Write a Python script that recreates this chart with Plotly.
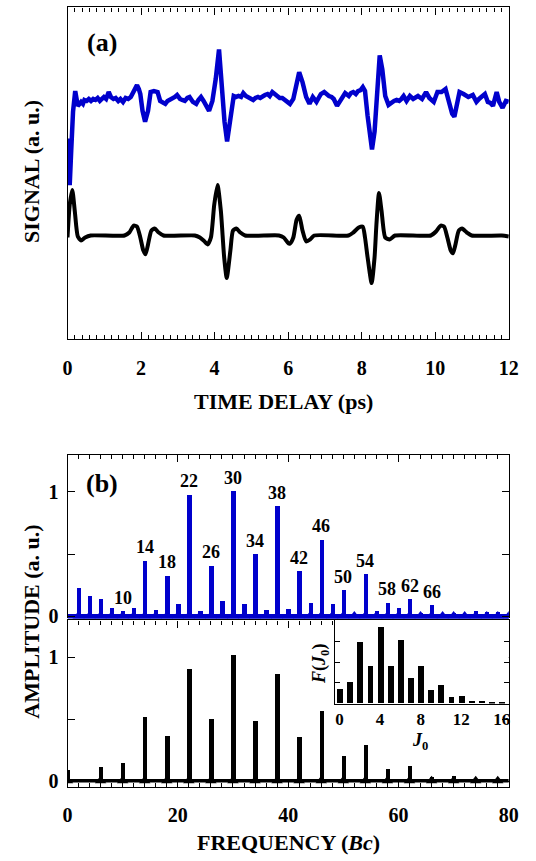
import plotly.graph_objects as go

W, H = 536, 861

# ---------------- data: panel (a) time-domain signals (a.u.) ----------------
blue_t = [0.00, 0.03, 0.06, 0.10, 0.15, 0.21, 0.28, 0.33, 0.37, 0.42, 0.46, 0.52, 0.58, 0.64, 0.70,
          0.76, 0.82, 0.88, 0.94, 0.99, 1.05, 1.12, 1.18, 1.25, 1.31, 1.38, 1.44, 1.51, 1.58, 1.65,
          1.72, 1.78, 1.84, 1.89, 1.94, 1.98, 2.04, 2.11, 2.19, 2.26, 2.35, 2.45, 2.52, 2.59, 2.66,
          2.72, 2.79, 2.86, 2.92, 2.98, 3.06, 3.12, 3.19, 3.26, 3.32, 3.41, 3.50, 3.56, 3.63, 3.70,
          3.76, 3.85, 3.94, 4.03, 4.12, 4.20, 4.27, 4.34, 4.43, 4.52, 4.58, 4.65, 4.72, 4.78, 4.85,
          4.91, 4.98, 5.05, 5.11, 5.18, 5.24, 5.31, 5.37, 5.44, 5.50, 5.57, 5.64, 5.71, 5.77, 5.84,
          5.90, 5.97, 6.05, 6.14, 6.23, 6.30, 6.39, 6.49, 6.58, 6.67, 6.77, 6.83, 6.89, 6.98, 7.05,
          7.11, 7.18, 7.24, 7.33, 7.44, 7.50, 7.55, 7.65, 7.71, 7.77, 7.84, 7.90, 7.97, 8.03, 8.09,
          8.16, 8.23, 8.28, 8.35, 8.42, 8.49, 8.56, 8.64, 8.73, 8.82, 8.88, 8.95, 9.02, 9.08, 9.14,
          9.22, 9.31, 9.40, 9.47, 9.53, 9.64, 9.75, 9.84, 9.96, 10.06, 10.17, 10.28, 10.37, 10.46,
          10.52, 10.59, 10.66, 10.77, 10.84, 10.90, 11.02, 11.12, 11.19, 11.26, 11.35, 11.43, 11.50,
          11.57, 11.67, 11.74, 11.83, 11.92, 12.00]
blue_v = [9.8, 7.0, 5.1, 8.5, 12.5, 14.6, 13.1, 13.3, 13.5, 13.3, 13.7, 13.6, 13.8, 13.6, 13.8,
          13.7, 13.9, 13.6, 13.9, 14.0, 13.8, 14.5, 14.0, 13.8, 13.9, 13.6, 13.8, 13.5, 13.9, 13.8,
          14.0, 14.5, 15.0, 15.2, 14.8, 14.3, 12.6, 11.5, 12.6, 14.5, 14.6, 14.5, 13.6, 13.5, 13.3,
          13.6, 13.7, 13.9, 14.0, 14.2, 13.8, 13.7, 13.6, 13.9, 14.0, 13.5, 13.3, 13.7, 14.0, 13.6,
          13.1, 12.6, 13.6, 15.8, 18.8, 14.8, 11.5, 9.5, 11.5, 14.1, 14.0, 14.1, 14.0, 14.4, 14.1,
          14.0, 13.8, 13.7, 13.9, 14.0, 13.9, 14.1, 14.2, 14.3, 14.1, 14.5, 14.3, 14.1, 13.9, 13.9,
          13.7, 13.6, 13.3, 13.8, 15.5, 16.5, 15.5, 14.0, 13.3, 14.0, 13.5, 14.0, 14.3, 14.5, 14.2,
          14.1, 14.0, 13.8, 13.1, 13.8, 14.0, 14.4, 14.1, 14.4, 14.5, 14.3, 14.6, 14.7, 15.0, 14.6,
          12.1, 9.8, 8.7, 10.5, 14.8, 18.2, 16.8, 14.1, 13.2, 13.5, 13.6, 13.7, 13.6, 13.8, 14.1,
          13.6, 14.1, 13.8, 14.0, 14.1, 13.8, 14.5, 13.9, 13.5, 14.5, 14.5, 14.8, 13.3, 12.3,
          12.0, 13.5, 14.5, 14.3, 14.1, 14.0, 14.2, 13.5, 13.8, 14.0, 14.3, 13.5, 13.4,
          13.1, 14.5, 13.5, 12.9, 13.6, 13.5]

black_t = [0.00, 0.06, 0.13, 0.20, 0.28, 0.37, 0.48, 0.63, 1.55, 1.68, 1.80, 1.89, 1.98, 2.06, 2.12,
           2.19, 2.28, 2.37, 2.48, 2.61, 3.46, 3.60, 3.70, 3.81, 3.90, 3.99, 4.08, 4.17, 4.26, 4.33,
           4.43, 4.50, 4.59, 4.70, 4.83, 5.75, 5.88, 6.01, 6.05, 6.14, 6.23, 6.30, 6.39, 6.49, 6.60,
           6.71, 7.64, 7.77, 7.92, 8.03, 8.09, 8.16, 8.27, 8.35, 8.40, 8.47, 8.54, 8.64, 8.76, 8.91,
           9.88, 10.02, 10.15, 10.24, 10.33, 10.42, 10.48, 10.55, 10.64, 10.73, 10.86, 10.99, 11.81, 12.00]
black_v = [-0.2, 3.1, 4.6, 2.4, -0.1, -0.5, -0.2, 0.0, 0.0, 0.3, 1.0, 0.9, -0.2, -1.5, -1.9,
           -0.9, 0.5, 0.7, 0.3, 0.0, 0.0, -0.2, -0.5, -0.9, -0.2, 3.1, 5.1, 2.5, -2.2, -4.3,
           -1.5, 0.5, 0.7, 0.3, 0.0, 0.0, -0.2, -0.8, -0.8, -0.2, 1.6, 2.0, 0.5, -0.6, -0.4,
           0.0, 0.0, 0.3, 0.8, 0.9, -0.2, -2.2, -4.8, -2.2, 1.1, 4.3, 2.5, -0.2, -0.4, 0.0,
           0.0, 0.4, 1.0, 0.9, -0.2, -1.5, -1.8, -0.9, 0.5, 0.7, 0.3, 0.0, 0.0, -0.1]

# ---------------- data: panel (b) spectra ----------------
blue_freq = [2, 4, 6, 8, 10, 12, 14, 16, 18, 20, 22, 24, 26, 28, 30, 32, 34, 36, 38, 40,
             42, 44, 46, 48, 50, 52, 54, 56, 58, 60, 62, 64, 66, 68, 70, 72, 74, 76, 78, 80]
blue_amp = [0.23, 0.165, 0.14, 0.072, 0.045, 0.07, 0.45, 0.053, 0.33, 0.10, 0.98, 0.043, 0.41, 0.13,
            1.01, 0.10, 0.50, 0.053, 0.885, 0.06, 0.367, 0.11, 0.62, 0.10, 0.215, 0.02, 0.34, 0.043,
            0.114, 0.074, 0.14, 0.03, 0.093, 0.02, 0.027, 0.01, 0.043, 0.035, 0.035, 0.027]
black_freq = [0, 6, 10, 14, 18, 22, 26, 30, 34, 38, 42, 46, 50, 54, 58, 62, 66, 70, 74, 78]
black_amp = [0.086, 0.11, 0.14, 0.51, 0.36, 0.90, 0.50, 1.01, 0.48, 0.86, 0.355, 0.56, 0.20, 0.29,
             0.094, 0.12, 0.03, 0.038, 0.01, 0.01]
peak_labels = [10, 14, 18, 22, 26, 30, 34, 38, 42, 46, 50, 54, 58, 62, 66]

# ---------------- data: inset ----------------
inset_j = list(range(17))
inset_f = [0.70, 1.0, 2.95, 1.8, 3.67, 1.78, 3.02, 1.23, 1.81, 0.64, 0.875, 0.30, 0.34, 0.125,
           0.11, 0.06, 0.04]

BLUE = "#0000cc"
FONT = "Liberation Serif"


def px(xp):
    return xp / W


def py(yp):
    return 1 - yp / H


fig = go.Figure()
fig.add_trace(go.Scatter(x=blue_t, y=blue_v, mode="lines", line=dict(color=BLUE, width=4.5),
                         xaxis="x", yaxis="y", showlegend=False))
fig.add_trace(go.Scatter(x=black_t, y=black_v, mode="lines",
                         line=dict(color="black", width=4, shape="spline", smoothing=0.6),
                         xaxis="x", yaxis="y", showlegend=False))

# blue spectrum: spikes + flared bases + thick baseline
fig.add_trace(go.Bar(x=blue_freq, y=blue_amp, width=0.8, marker=dict(color=BLUE, line=dict(width=0)),
                     xaxis="x2", yaxis="y2", showlegend=False))
fig.add_trace(go.Scatter(x=blue_freq, y=[0] * len(blue_freq), mode="markers",
                         marker=dict(symbol="triangle-up", size=11, color=BLUE, line=dict(width=0)),
                         xaxis="x2", yaxis="y2", showlegend=False))
fig.add_trace(go.Scatter(x=[0, 80], y=[0, 0], mode="lines", line=dict(color=BLUE, width=5),
                         xaxis="x2", yaxis="y2", showlegend=False))

# black spectrum
fig.add_trace(go.Bar(x=black_freq, y=black_amp, width=0.8, marker=dict(color="black", line=dict(width=0)),
                     xaxis="x3", yaxis="y3", showlegend=False))
fig.add_trace(go.Scatter(x=black_freq, y=[0.005] * len(black_freq), mode="markers",
                         marker=dict(symbol="triangle-up", size=10, color="black", line=dict(width=0)),
                         xaxis="x3", yaxis="y3", showlegend=False))
fig.add_trace(go.Scatter(x=[0, 80], y=[0.005, 0.005], mode="lines", line=dict(color="black", width=3.5),
                         xaxis="x3", yaxis="y3", showlegend=False))

fig.add_trace(go.Bar(x=inset_j, y=inset_f, width=0.58, marker=dict(color="black", line=dict(width=0)),
                     xaxis="x4", yaxis="y4", showlegend=False))

xdom = [px(64.3), px(518.3)]
tickfont = dict(family=FONT, size=20, color="black", weight="bold")
common = dict(showgrid=False, zeroline=False, showline=True, linecolor="black", linewidth=1.2,
              tickcolor="black", tickwidth=1, tickfont=tickfont)

fig.update_layout(
    width=W, height=H, margin=dict(l=0, r=0, t=0, b=0), autosize=False,
    paper_bgcolor="white", plot_bgcolor="white", bargap=0,
    font=dict(family=FONT, color="black", weight="bold"),
    xaxis=dict(domain=xdom, anchor="y", range=[0, 12], dtick=2, ticks="inside", ticklen=7,
               mirror="ticks", ticklabelstandoff=10,
               minor=dict(dtick=0.2, ticks="inside", ticklen=4, tickcolor="black"), **common),
    yaxis=dict(domain=[py(343), py(7.5)], anchor="x", range=[-10.5, 23.05], showticklabels=False,
               ticks="", mirror=True, **common),
    xaxis2=dict(domain=xdom, anchor="y2", side="top", range=[0, 80], dtick=20, ticks="inside",
                ticklen=7, showticklabels=False,
                minor=dict(dtick=2, ticks="inside", ticklen=4, tickcolor="black"), **common),
    yaxis2=dict(domain=[py(625), py(459.5)], anchor="x2", range=[-0.016, 1.298],
                tickvals=[0, 0.5, 1], ticktext=["0", " ", "1"], ticks="inside", ticklen=7,
                mirror="ticks", ticklabelstandoff=4, **common),
    xaxis3=dict(domain=xdom, anchor="y3", range=[0, 80], dtick=20, ticks="inside", ticklen=7,
                mirror="ticks", ticklabelstandoff=10,
                minor=dict(dtick=2, ticks="inside", ticklen=4, tickcolor="black"), **common),
    yaxis3=dict(domain=[py(795), py(627)], anchor="x3", range=[-0.043, 1.294],
                tickvals=[0, 0.5, 1], ticktext=["0", " ", "1"], ticks="inside", ticklen=7,
                mirror="ticks", ticklabelstandoff=4, **common),
    xaxis4=dict(domain=[px(339), px(518.3)], anchor="y4", range=[-0.5, 16.7],
                tickvals=[0, 4, 8, 12, 16], ticks="", mirror=True, ticklabelstandoff=0,
                **{**common, "tickfont": dict(family=FONT, size=17, color="black", weight="bold")}),
    yaxis4=dict(domain=[py(711), py(627)], anchor="x4", range=[0, 4], tickvals=[1, 2, 3],
                ticks="inside", ticklen=5, mirror="ticks", showticklabels=False, **common),
)


def ann(text, x, y, size, angle=0, **kw):
    fig.add_annotation(text=text, x=x, y=y, xref="paper", yref="paper", showarrow=False,
                       textangle=angle, xanchor="center", yanchor="middle",
                       font=dict(family=FONT, size=size, color="black", weight="bold"), **kw)


ann("SIGNAL (a. u.)", px(27), py(173.5), 22, angle=-90)
ann("TIME DELAY (ps)", px(287), py(406), 22)
ann("AMPLITUDE (a. u.)", px(27), py(628), 22, angle=-90)
ann("FREQUENCY (<i>Bc</i>)", px(292), py(851), 22)
ann("(a)", px(100), py(43), 26)
ann("(b)", px(100), py(489), 26)
ann("<i>F</i>(<i>J</i><sub>0</sub>)", px(325), py(671), 18, angle=-90)
ann("<i>J</i><sub>0</sub>", px(427), py(749), 18)

for f in peak_labels:
    a = blue_amp[blue_freq.index(f)]
    fig.add_annotation(text=str(f), x=f, y=a, xref="x2", yref="y2", showarrow=False,
                       xanchor="center", yanchor="bottom", yshift=1,
                       font=dict(family=FONT, size=18, color="black", weight="bold"))

fig.write_html("out.html", config={"responsive": False, "displayModeBar": False},
               post_script="document.body.style.margin='0px';document.body.style.overflow='hidden';")
